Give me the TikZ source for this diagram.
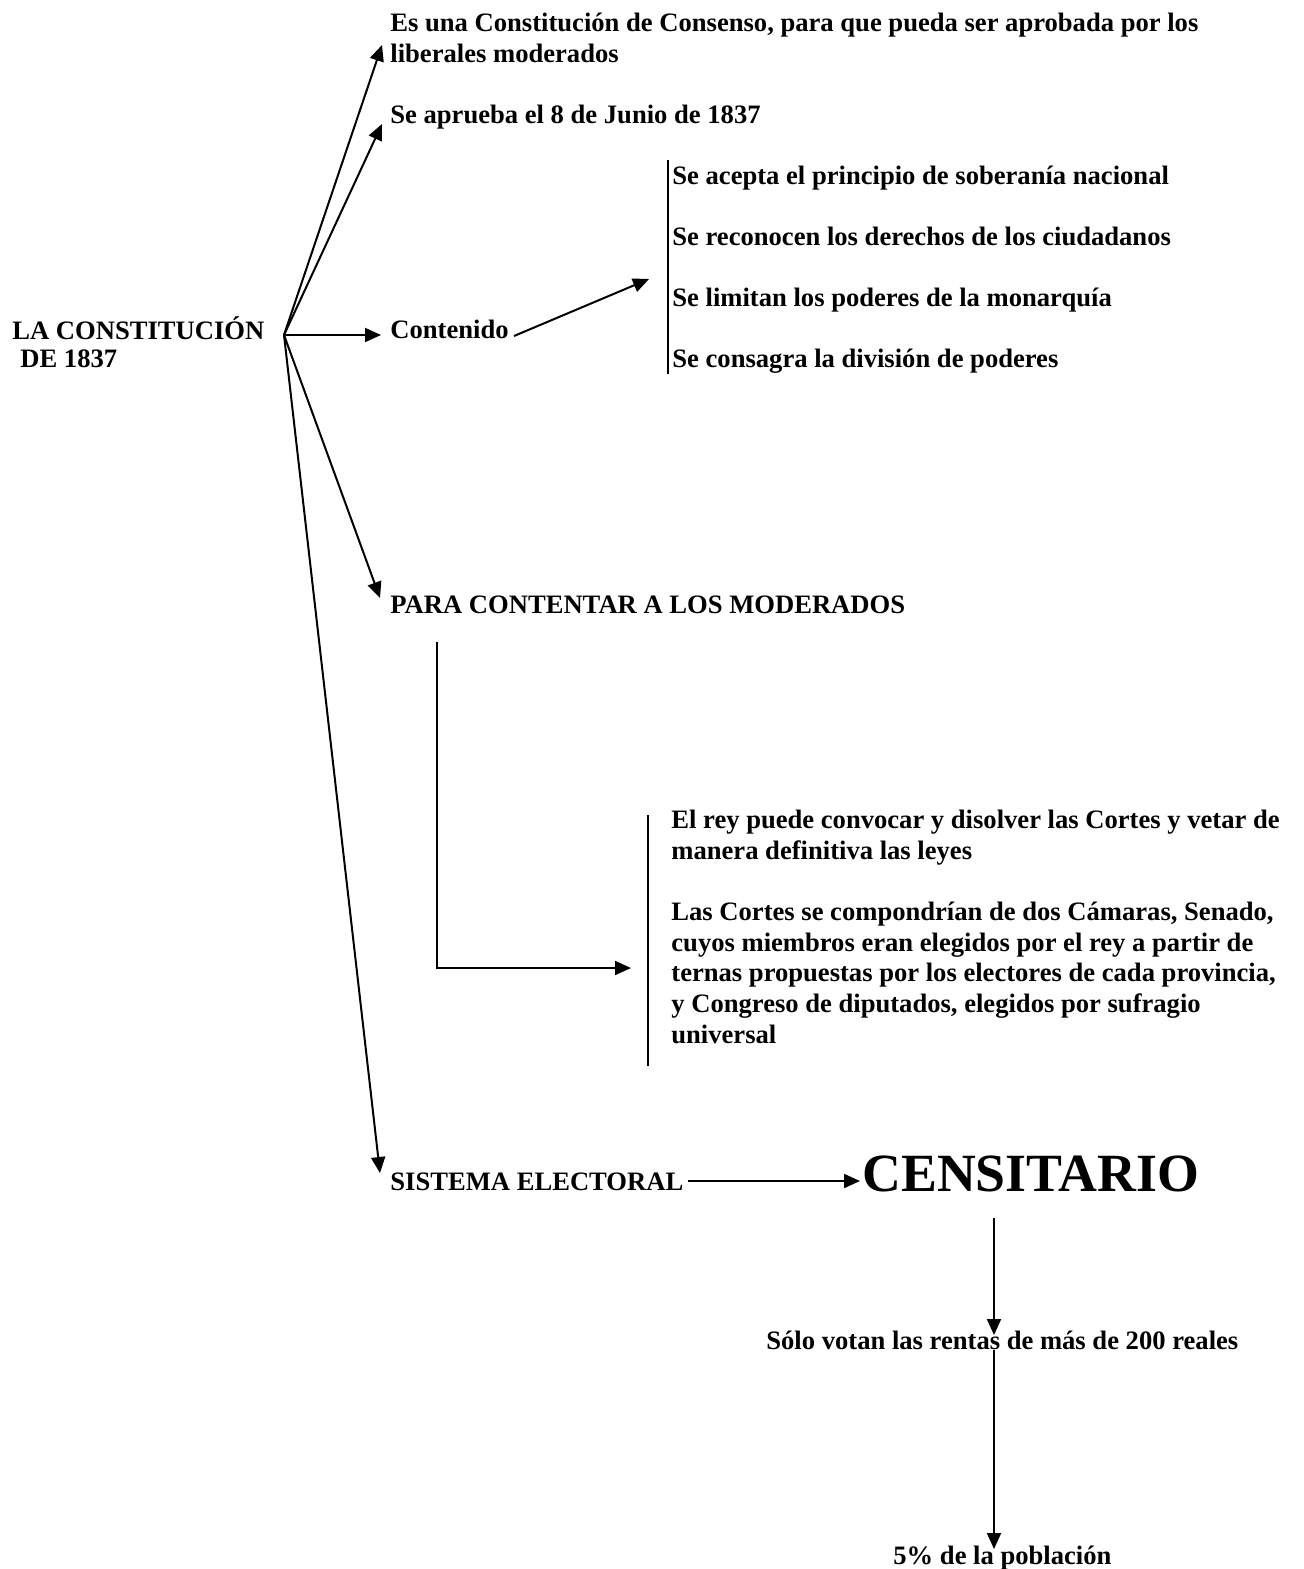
\documentclass[tikz,border=0pt]{standalone}
\usepackage{fontspec}
\setmainfont{Liberation Serif}
\usetikzlibrary{arrows.meta}
\begin{document}
\begin{tikzpicture}[x=0.5pt,y=-0.5pt,
  txt/.style={inner sep=0pt,anchor=base west,font=\fontsize{13.3}{15.35}\selectfont\bfseries},
  big/.style={inner sep=0pt,anchor=base west,font=\fontsize{26.9}{30}\selectfont\bfseries},
  arr/.style={line width=1pt,-{Triangle[length=8pt,width=7pt]}},
  bar/.style={line width=0.8pt}]
\useasboundingbox[fill=white] (0,0) rectangle (1303,1569);
% root
\node[txt] (root) at (12,339) {LA CONSTITUCIÓN};
\node[txt] (root2) at (12,367) {\hspace{0.3em}DE 1837};
\coordinate (hub) at (284,335);
% branches
\node[txt] (consenso) at (390,31) {Es una Constitución de Consenso, para que pueda ser aprobada por los};
\node[txt] (consenso2) at (390,62) {liberales moderados};
\node[txt] (aprueba) at (390,123) {Se aprueba el 8 de Junio de 1837};
\node[txt] (contenido) at (390,338) {Contenido};
\node[txt] (para) at (390,613) {PARA CONTENTAR A LOS MODERADOS};
\node[txt] (sistema) at (390,1190) {SISTEMA ELECTORAL};
\coordinate (t1) at (382,45);
\coordinate (t2) at (382,124);
\coordinate (t3) at (381,335);
\coordinate (t4) at (380,598);
\coordinate (t5) at (380,1173);
\draw[arr] (hub) -- (t1);
\draw[arr] (hub) -- (t2);
\draw[arr] (hub) -- (t3);
\draw[arr] (hub) -- (t4);
\draw[arr] (hub) -- (t5);
% contenido list
\coordinate (c0) at (514,336);
\coordinate (c1) at (649,279);
\draw[arr] (c0) -- (c1);
\coordinate (b1) at (668,160);
\coordinate (b2) at (668,374);
\draw[bar] (b1) -- (b2);
\node[txt] (i1) at (672,184) {Se acepta el principio de soberanía nacional};
\node[txt] (i2) at (672,245) {Se reconocen los derechos de los ciudadanos};
\node[txt] (i3) at (672,306) {Se limitan los poderes de la monarquía};
\node[txt] (i4) at (672,367) {Se consagra la división de poderes};
% para contentar
\coordinate (p0) at (437,642);
\coordinate (p1) at (437,968);
\coordinate (p2) at (631,968);
\draw[arr] (p0) -- (p1) -- (p2);
\coordinate (d1) at (648,815);
\coordinate (d2) at (648,1066);
\draw[bar] (d1) -- (d2);
\node[txt] (rey1) at (671,828) {El rey puede convocar y disolver las Cortes y vetar de};
\node[txt] (rey2) at (671,859) {manera definitiva las leyes};
\node[txt] (cor1) at (671,920) {Las Cortes se compondrían de dos Cámaras, Senado,};
\node[txt] (cor2) at (671,951) {cuyos miembros eran elegidos por el rey a partir de};
\node[txt] (cor3) at (671,981) {ternas propuestas por los electores de cada provincia,};
\node[txt] (cor4) at (671,1012) {y Congreso de diputados, elegidos por sufragio};
\node[txt] (cor5) at (671,1043) {universal};
% sistema electoral
\node[big] (cens) at (862,1191) {CENSITARIO};
\coordinate (s0) at (688,1181);
\coordinate (s1) at (860,1181);
\draw[arr] (s0) -- (s1);
\coordinate (v0) at (994,1218);
\coordinate (v1) at (994,1335);
\draw[arr] (v0) -- (v1);
\node[txt] (solo) at (766,1349) {Sólo votan las rentas de más de 200 reales};
\coordinate (v2) at (994,1350);
\coordinate (v3) at (994,1549);
\draw[arr] (v2) -- (v3);
\node[txt] (cinco) at (893,1564) {5\% de la población};
\end{tikzpicture}
\end{document}
